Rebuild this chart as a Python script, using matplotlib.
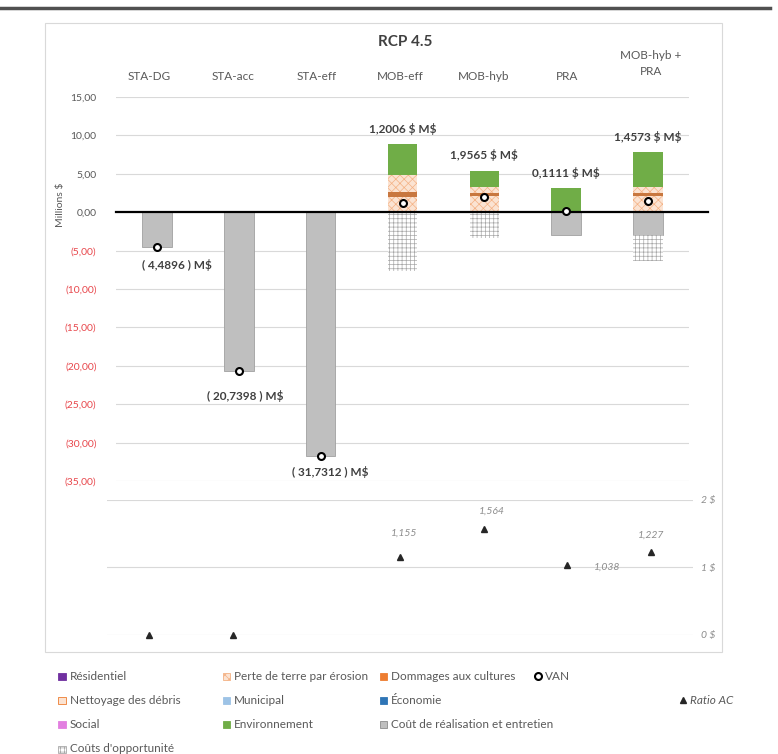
import numpy as np
import matplotlib
matplotlib.use('Agg')
import matplotlib.pyplot as plt
from matplotlib.patches import Rectangle
from matplotlib.lines import Line2D
from matplotlib.transforms import blended_transform_factory

plt.rcParams['font.family'] = ['Lato', 'DejaVu Sans']
plt.rcParams['hatch.linewidth'] = 0.5

# data (millions $)
categories = ['STA-DG', 'STA-acc', 'STA-eff', 'MOB-eff', 'MOB-hyb', 'PRA', 'MOB-hyb +\nPRA']
cout = [-4.49, -20.74, -31.73, 0.0, 0.0, -3.0, -3.0]
opportunite = [0.0, 0.0, 0.0, -7.7, -3.4, 0.0, -3.3]
perte_terre = [0.0, 0.0, 0.0, 2.0, 2.1, 0.0, 2.1]
dommages = [0.0, 0.0, 0.0, 0.6, 0.4, 0.0, 0.4]
nettoyage = [0.0, 0.0, 0.0, 2.2, 0.8, 0.0, 0.8]
environnement = [0.0, 0.0, 0.0, 4.1, 2.1, 3.1, 4.5]
van = [-4.4896, -20.7398, -31.7312, 1.2006, 1.9565, 0.1111, 1.4573]
ratio_ac = [0.0, 0.0, np.nan, 1.155, 1.564, 1.038, 1.227]
show_ratio_label = [False, False, False, True, True, True, True]

grey_txt = '#595959'
peach = '#FBE3D2'
peach_edge = '#F4B183'

fig = plt.figure(figsize=(7.78, 7.54), dpi=100)

def fx(px):
    return px / 778.0

def fy(py):
    return 1 - py / 754.0

# page rule + chart frame
fig.add_artist(Line2D([0, fx(770)], [fy(8), fy(8)], color='#505050', lw=2.5))
fig.add_artist(Rectangle((fx(45), fy(652)), fx(722) - fx(45), fy(23) - fy(652),
                         fill=False, edgecolor='#D9D9D9', lw=0.8))

# ---- upper panel: costs / benefits ----
ax = fig.add_axes([fx(116), fy(481), fx(689) - fx(116), fy(97) - fy(481)])
x = np.arange(len(categories))
w = 0.36
ax.set_xlim(-0.5, 6.5)
ax.set_ylim(-35, 15)

ax.bar(x, cout, w, color='#BFBFBF', edgecolor='#A0A0A0', lw=0.6, zorder=2)
ax.bar(x, opportunite, w, bottom=cout, color='white', edgecolor='#A8A8A8',
       hatch='++++', lw=0, zorder=2)
b = np.zeros(len(x))
ax.bar(x, perte_terre, w, bottom=b, color=peach, edgecolor=peach_edge, hatch='xxxx', lw=0, zorder=2)
b += perte_terre
ax.bar(x, dommages, w, bottom=b, color='#C8773F', lw=0, zorder=2)
b += dommages
ax.bar(x, nettoyage, w, bottom=b, color=peach, edgecolor=peach_edge, hatch='xxxx', lw=0, zorder=2)
b += nettoyage
ax.bar(x, environnement, w, bottom=b, color='#70AD47', lw=0, zorder=2)
b += environnement
top = b

ax.axhline(0, xmin=0, xmax=(708 - 116) / 573.0, color='black', lw=1.6, zorder=3, clip_on=False)
ax.plot(x, van, 'o', ms=5, mfc='white', mec='black', mew=1.5, zorder=4, ls='none')

# VAN labels
neg_off = [(20, -18), (6, -25), (10, -16)]
for i, v in enumerate(van):
    s = f'{abs(v):.4f}'.replace('.', ',')
    if v < 0:
        dx, dy = neg_off[i]
        ax.annotate(f'( {s} ) M\\$', (x[i], cout[i]), xytext=(dx * 0.72, dy * 0.72),
                    textcoords='offset points', ha='center', va='center',
                    fontsize=8.5, fontweight='bold', color='#404040', annotation_clip=False)
    else:
        ax.annotate(f'{s} \\$ M\\$', (x[i], top[i]), xytext=(0, 11),
                    textcoords='offset points', ha='center', va='center',
                    fontsize=8.5, fontweight='bold', color='#404040', annotation_clip=False)

yt = np.arange(15, -40, -5)
ax.set_yticks(yt)
labels = []
for t in yt:
    labels.append(f'{t:.2f}'.replace('.', ',') if t >= 0 else f'({-t:.2f})'.replace('.', ','))
ax.set_yticklabels(labels, fontsize=7.5)
for t, lab in zip(yt, ax.get_yticklabels()):
    lab.set_color(grey_txt if t >= 0 else '#E8474C')
ax.tick_params(axis='y', length=0, pad=14)
ax.set_xticks([])
ax.yaxis.grid(True, color='#D9D9D9', lw=0.8, zorder=0)
ax.set_axisbelow(True)
for sp in ax.spines.values():
    sp.set_visible(False)
fig.text(fx(61), fy(205), 'Millions $', rotation=90, ha='center', va='center',
         fontsize=7.5, color=grey_txt)

# ---- lower panel: ratio AC ----
ax2 = fig.add_axes([fx(107), fy(634.5), fx(693) - fx(107), fy(500) - fy(634.5)])
ax2.set_xlim(-0.5, 6.5)
ax2.set_ylim(0, 2)
ax2.plot(x, ratio_ac, '^', ms=5, color='#262626', ls='none', clip_on=False, zorder=3)
r_off = [(0, 0), (0, 0), (0, 0), (4, 24), (8, 18), (40, -2), (0, 17)]
for i, r in enumerate(ratio_ac):
    if show_ratio_label[i]:
        dx, dy = r_off[i]
        ax2.annotate(f'{r:.3f}'.replace('.', ','), (x[i], r), xytext=(dx * 0.72, dy * 0.72),
                     textcoords='offset points', ha='center', va='center',
                     fontsize=7.5, style='italic', color='#8C8C8C', annotation_clip=False)
ax2.set_xticks([])
ax2.set_yticks([0, 1, 2])
ax2.set_yticklabels(['0 $', '1 $', '2 $'], fontsize=7.5, style='italic', color='#8C8C8C')
ax2.yaxis.tick_right()
ax2.tick_params(axis='y', length=0, pad=6)
ax2.yaxis.grid(True, color='#D9D9D9', lw=0.8, zorder=0)
for sp in ax2.spines.values():
    sp.set_visible(False)

# title and category labels
fig.text(fx(405), fy(42), 'RCP 4.5', ha='center', va='center', fontsize=11,
         fontweight='bold', color='#404040')
tr = blended_transform_factory(ax2.transData, fig.transFigure)
for i, c in enumerate(categories):
    fig.text(x[i], fy(77), c, transform=tr, ha='center', va='bottom' if '\n' in c else 'center',
             fontsize=8.5, color=grey_txt, linespacing=1.6)

# ---- legend ----
def leg_box(px, py, fc, ec=None, hatch=None):
    fig.add_artist(Rectangle((fx(px - 3.5), fy(py + 3.5)), fx(7), fy(0) - fy(7),
                             facecolor=fc, edgecolor=ec if ec else fc, hatch=hatch, lw=0.6))

def leg_text(px, py, s, **kw):
    fig.text(fx(px), fy(py), s, ha='left', va='center', fontsize=8.5, color=grey_txt, **kw)

leg_items = [
    (62, 676, 'Résidentiel', '#7030A0', None, None),
    (226, 676, 'Perte de terre par érosion', peach, peach_edge, 'xxxx'),
    (383, 676, 'Dommages aux cultures', '#ED7D31', None, None),
    (62, 700, 'Nettoyage des débris', peach, '#ED7D31', None),
    (226, 700, 'Municipal', '#9DC3E6', None, None),
    (383, 700, 'Économie', '#2E75B6', None, None),
    (62, 724, 'Social', '#E27FE0', None, None),
    (226, 724, 'Environnement', '#70AD47', None, None),
    (383, 724, 'Coût de réalisation et entretien', '#BFBFBF', '#8C8C8C', None),
    (62, 749, "Coûts d'opportunité", 'white', '#A8A8A8', '++++'),
]
for px, py, s, fc, ec, h in leg_items:
    leg_box(px, py, fc, ec, h)
    leg_text(px + 8, py, s)

fig.add_artist(Line2D([fx(538)], [fy(676)], marker='o', ms=5, mfc='white', mec='black', mew=1.5))
leg_text(545, 676, 'VAN')
fig.add_artist(Line2D([fx(683)], [fy(700)], marker='^', ms=5, color='#262626'))
leg_text(690, 700, 'Ratio AC', style='italic')

fig.savefig('out.png', dpi=100)
